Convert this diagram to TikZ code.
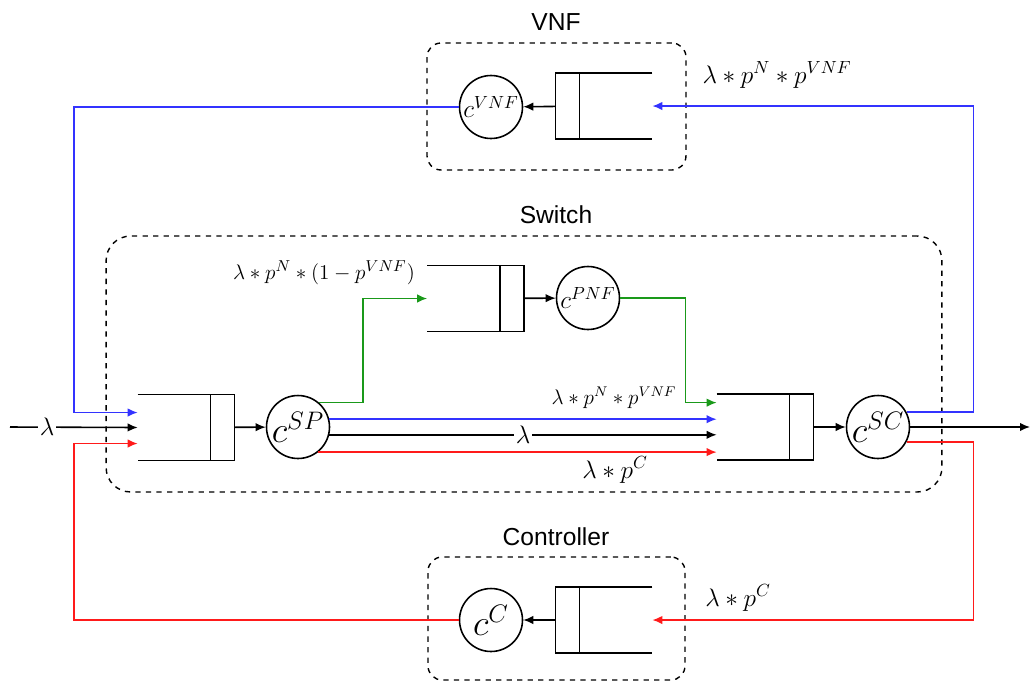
\documentclass[tikz,border=0pt]{standalone}
\usepackage{fontspec}
\usetikzlibrary{arrows.meta,calc}
\newfontfamily\boxfont{Liberation Sans}
\definecolor{flowblue}{HTML}{3333FF}
\definecolor{flowred}{HTML}{FF1A1A}
\definecolor{flowgreen}{HTML}{1A991A}
\tikzset{
  server/.style={circle,draw,line width=0.9pt,minimum size=1.26cm,inner sep=0pt},
  queue/.style={rectangle,draw=none,minimum width=1.92cm,minimum height=1.3cm,inner sep=0pt},
  groupbox/.style={rectangle,rounded corners=8pt,draw,dashed,line width=0.8pt},
  boxtitle/.style={font=\boxfont\fontsize{14}{16}\selectfont},
  rate/.style={font=\Large},
  arrow/.style={-{Latex[length=2mm,width=1.7mm]},line width=0.9pt},
  bluearrow/.style={arrow,draw=flowblue},
  redarrow/.style={arrow,draw=flowred},
  greenarrow/.style={arrow,draw=flowgreen}
}
\begin{document}
\begin{tikzpicture}[x=0.02cm,y=-0.02cm]
  \useasboundingbox (0,0) rectangle (1031,684);

  % group boxes
  \node[groupbox,rounded corners=14pt,minimum width=16.72cm,minimum height=5.12cm] (switch) at (524,364) {};
  \node[groupbox,minimum width=5.18cm,minimum height=2.54cm] (vnf) at (556.5,106.5) {};
  \node[groupbox,minimum width=5.14cm,minimum height=2.46cm] (ctl) at (556.5,618.5) {};
  \node[boxtitle] (t_vnf) at (556,22) {VNF};
  \node[boxtitle] (t_switch) at (556,215) {Switch};
  \node[boxtitle] (t_ctl) at (556,537) {Controller};

  % queues
  \node[queue] (q_sp) at (186,427.5) {};
  \node[queue] (q_pnf) at (475.5,298.5) {};
  \node[queue] (q_sc) at (765,427) {};
  \node[queue] (q_vnf) at (604,106) {};
  \node[queue] (q_ctl) at (604,620) {};
  \foreach \q in {q_sp,q_pnf,q_sc} {
    \draw[line width=0.9pt] (\q.north west) -- (\q.north east) -- (\q.south east) -- (\q.south west);
    \draw[line width=0.9pt] ([xshift=-0.48cm]\q.north east) -- ([xshift=-0.48cm]\q.south east);
  }
  \foreach \q in {q_vnf,q_ctl} {
    \draw[line width=0.9pt] (\q.north east) -- (\q.north west) -- (\q.south west) -- (\q.south east);
    \draw[line width=0.9pt] ([xshift=0.48cm]\q.north west) -- ([xshift=0.48cm]\q.south west);
  }

  % servers
  \node[server,font=\huge] (c_sp) at (298,427) {$c^{SP}$};
  \node[server,font=\Large] (c_pnf) at (588,298) {$c^{PNF}$};
  \node[server,font=\huge] (c_sc) at (878,427) {$c^{SC}$};
  \node[server,font=\Large] (c_vnf) at (491,107) {$c^{VNF}$};
  \node[server,font=\huge] (c_ctl) at (491,620) {$c^{C}$};

  \coordinate (src) at (10,427);
  \coordinate (sink) at (1030,427);

  % queue to server
  \draw[arrow] (q_sp) -- (c_sp);
  \draw[arrow] (q_pnf) -- (c_pnf);
  \draw[arrow] (q_sc) -- (c_sc);
  \draw[arrow] (q_vnf) -- (c_vnf);
  \draw[arrow] (q_ctl) -- (c_ctl);

  % arrivals and departures
  \draw[arrow] (src) -- node[pos=0.29,fill=white,inner sep=1pt,rate]{$\lambda$} (q_sp.west);
  \draw[arrow] (c_sc) -- (sink);

  % switch paths
  \draw[greenarrow] (c_sp.49) -- ++(44,0) |- (q_pnf.west);
  \draw[greenarrow] (c_pnf.east) -- ++(65,0) |- (c_sp.49 -| q_sc.west);
  \draw[bluearrow] (c_sp.14) -- (c_sp.14 -| q_sc.west);
  \draw[arrow] (c_sp.-14) -- node[pos=0.5,fill=white,inner sep=1pt,rate]{$\lambda$} (c_sp.-14 -| q_sc.west);
  \draw[redarrow] (c_sp.-51) -- (c_sp.-51 -| q_sc.west);

  % feedback through VNF and controller
  \draw[bluearrow] (c_sc.28) -- ++(67,0) |- (q_vnf.east);
  \draw[redarrow] (c_sc.-28) -- ++(67,0) |- (q_ctl.east);
  \draw[bluearrow] (c_vnf.west) -- ++(-385,0) |- ([yshift=0.3cm]q_sp.west);
  \draw[redarrow] (c_ctl.west) -- ++(-385,0) |- ([yshift=-0.32cm]q_sp.west);

  % rates
  \node[rate] (r_vnf) at (777,75) {$\lambda*p^N*p^{VNF}$};
  \node[rate] (r_ctl) at (738,598) {$\lambda*p^C$};
  \node[rate,font=\large] (r_sp_vnf) at (614,398) {$\lambda*p^N*p^{VNF}$};
  \node[rate] (r_sp_ctl) at (615,470) {$\lambda*p^C$};
  \node[rate,font=\fontsize{13}{15}\selectfont] (r_pnf) at (324,273) {$\lambda*p^N*(1-p^{VNF})$};
\end{tikzpicture}
\end{document}
